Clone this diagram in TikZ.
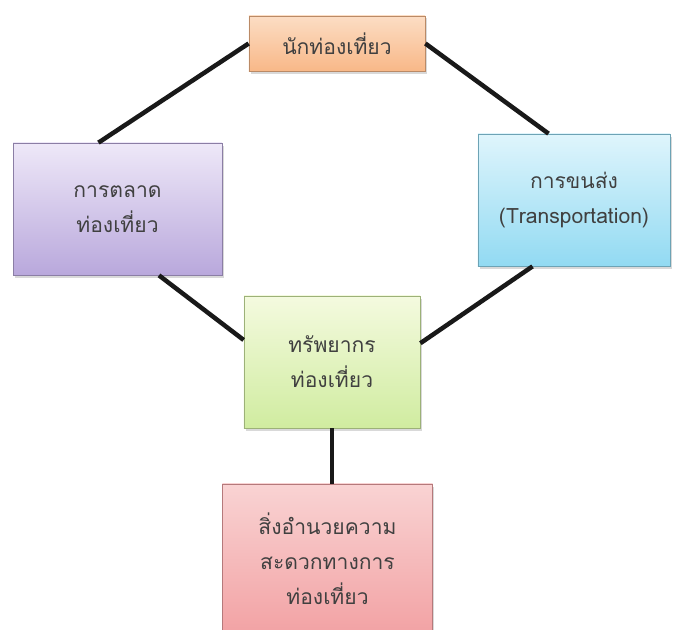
\documentclass[tikz,border=0pt]{standalone}
\usepackage{fontspec}
\newfontfamily\thaifont[Script=Thai]{Loma}
\usetikzlibrary{shadows}

\definecolor{textgray}{HTML}{404040}
\definecolor{peachtop}{HTML}{FCDDC4}
\definecolor{peachbot}{HTML}{F8B888}
\definecolor{lilactop}{HTML}{EEE8F8}
\definecolor{lilacbot}{HTML}{B9A8DC}
\definecolor{skytop}{HTML}{DFF5FC}
\definecolor{skybot}{HTML}{92DAF2}
\definecolor{leaftop}{HTML}{F4FADF}
\definecolor{leafbot}{HTML}{D0ECA0}
\definecolor{rosetop}{HTML}{F9D3D3}
\definecolor{rosebot}{HTML}{F2A2A4}

\begin{document}
\begin{tikzpicture}[x=0.025cm, y=-0.025cm,
    nodes = {font=\thaifont\fontsize{15}{25}\selectfont, text=textgray, align=center},
    box/.style = {draw=#1bot!75!black, line width=0.5pt, inner sep=0pt,
      top color=#1top, bottom color=#1bot,
      drop shadow={shadow xshift=1.2pt, shadow yshift=-1.8pt, opacity=0.3}},
    link/.style = {line width=3.2pt, black!90}]
  \useasboundingbox (0,0) rectangle (677,630);
  \clip (0,0) rectangle (677,630);

  \node[box=peach, minimum width=4.4cm, minimum height=1.38cm]
    (tourist) at (337,43.5) {นักท่องเที่ยว};
  \node[box=lilac, minimum width=5.22cm, minimum height=3.3cm]
    (mkt) at (117.5,209) {การตลาด\\ท่องเที่ยว};
  \node[box=sky, minimum width=4.8cm, minimum height=3.3cm]
    (trans) at (574,200) {การขนส่ง\\(Transportation)};
  \node[box=leaf, minimum width=4.4cm, minimum height=3.3cm]
    (res) at (332,362) {ทรัพยากร\\ท่องเที่ยว};
  \node[box=rose, minimum width=5.25cm, minimum height=3.75cm]
    (fac) at (327.5,559) {สิ่งอำนวยความ\\สะดวกทางการ\\ท่องเที่ยว};

  \foreach \a/\b in {tourist.west/mkt.106, tourist.east/trans.111,
      mkt.-58/res.166, trans.238/res.12}
    \draw[link] (\a) -- (\b);
  \draw[link] (res.south) -- (res.south |- fac.north);
\end{tikzpicture}
\end{document}
